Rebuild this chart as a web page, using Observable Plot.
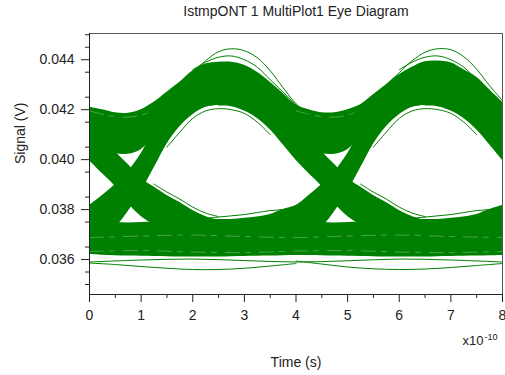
<!DOCTYPE html>
<html>
<head>
<meta charset="utf-8">
<script src="https://cdn.jsdelivr.net/npm/d3@7"></script>
<script src="https://cdn.jsdelivr.net/npm/@observablehq/plot@0.6"></script>
<style>
  html, body { margin: 0; padding: 0; background: #fff; }
  #chart svg { display: block; }
</style>
</head>
<body>
<div id="chart"></div>
<script>
// ---------- tick labels / text ----------
const titleText = "IstmpONT 1 MultiPlot1 Eye Diagram";
const xLabel = "Time (s)";
const yLabel = "Signal (V)";
const xMajor = [0, 1, 2, 3, 4, 5, 6, 7, 8];
const xMinor = [0.5, 1.5, 2.5, 3.5, 4.5, 5.5, 6.5, 7.5];
const yMajor = [0.036, 0.038, 0.040, 0.042, 0.044];
const yMinor = [0.035, 0.0355, 0.0365, 0.0375, 0.0385, 0.0395, 0.0405, 0.0415, 0.0425, 0.0435, 0.0445, 0.045];

// ---------- sample times (units of 1e-10 s) ----------
const T = [0, 0.25, 0.5, 0.75, 1, 1.25, 1.5, 1.75, 2, 2.25, 2.5, 2.75, 3, 3.25, 3.5, 3.75, 4,
           4.25, 4.5, 4.75, 5, 5.25, 5.5, 5.75, 6, 6.25, 6.5, 6.75, 7, 7.25, 7.5, 7.75, 8];

// upper mass (high level traces) envelope
const upperHi = [.0421, .0420, .04188, .04186, .0420, .0423, .0427, .0431, .04355, .04383, .0439, .0439, .04378, .0435, .0431, .04265, .0422,
                 .0420, .04188, .04188, .0420, .0422, .0426, .0430, .0434, .0437, .04392, .04395, .04388, .0436, .0433, .0428, .0423];
const upperLo = [.0408, .0405, .04025, .04022, .0404, .0409, .0413, .0416, .0419, .0421, .04218, .04218, .0421, .0418, .0414, .0410, .0407,
                 .0405, .04025, .04022, .0404, .0409, .0413, .0416, .0419, .0421, .04218, .04218, .0421, .0418, .0414, .0410, .0407];
// lower mass (low level traces) envelope
const lowerHi = [.0376, .0375, .03748, .03746, .03748, .0375, .0375, .03752, .03755, .03758, .0376, .0376, .03758, .03755, .03752, .0375, .0375,
                 .0375, .03748, .03746, .03748, .0375, .0375, .03752, .03755, .03758, .0376, .0376, .03758, .03755, .03752, .0375, .0375];
const lowerLo = [.0362, .03617, .03615, .03614, .03613, .03612, .03611, .0361, .0361, .0361, .0361, .03611, .03612, .03613, .03614, .03615, .03616,
                 .03616, .03615, .03614, .03613, .03612, .03611, .0361, .0361, .0361, .0361, .03611, .03612, .03613, .03614, .03615, .03616];

// falling transitions
const fall1T  = [0, 0.25, 0.5, 0.75, 1, 1.25, 1.5, 1.75, 2, 2.25, 2.5];
const fall1Hi = [.0414, .04084, .04032, .0398, .03924, .0389, .03856, .03828, .03796, .03772, .03756];
const fall1Lo = [.03996, .03944, .03892, .03824, .03772, .0374, .0372, .0370, .0368, .0367, .0367];
const fall2T  = [2.5, 2.75, 3, 3.25, 3.5, 3.75, 4, 4.25, 4.5, 4.75, 5, 5.25, 5.5, 5.75, 6, 6.25, 6.5];
const fall2Hi = [.0435, .0434, .0432, .0428, .0424, .0419, .0414, .04084, .04032, .0398, .03924, .0389, .03856, .03828, .03796, .03772, .03756];
const fall2Lo = [.04215, .04212, .04195, .04165, .0412, .0406, .03998, .03944, .03892, .03824, .03772, .0374, .0372, .0370, .0368, .0367, .0367];
const fall3T  = [6.5, 6.75, 7, 7.25, 7.5, 7.75, 8];
const fall3Hi = [.0435, .0434, .0432, .0428, .0424, .0419, .0414];
const fall3Lo = [.04215, .04212, .04195, .04165, .0412, .0406, .03998];

// rising transitions
const rise1T  = [0, 0.25, 0.5, 0.75, 1, 1.25, 1.5, 1.75, 2, 2.25, 2.5];
const rise1Hi = [.03816, .03856, .039, .03952, .04024, .0411, .0416, .0422, .0427, .0431, .0434];
const rise1Lo = [.0370, .0371, .0373, .03792, .03872, .03966, .04062, .04132, .0418, .0421, .04218];
const rise2T  = [2.5, 2.75, 3, 3.25, 3.5, 3.75, 4, 4.25, 4.5, 4.75, 5, 5.25, 5.5, 5.75, 6, 6.25, 6.5];
const rise2Hi = [.0376, .0376, .03765, .0377, .0378, .0380, .03816, .03856, .039, .03952, .04024, .0411, .0416, .0422, .0427, .0431, .0434];
const rise2Lo = [.0366, .0366, .0366, .0367, .0368, .0369, .0370, .0371, .0373, .03792, .03872, .03966, .04062, .04132, .0418, .0421, .04218];
const rise3T  = [6.5, 6.75, 7, 7.25, 7.5, 7.75, 8];
const rise3Hi = [.0376, .0376, .03765, .0377, .0378, .0380, .03816];
const rise3Lo = [.0366, .0366, .0366, .0367, .0368, .0369, .0370];

// individual outlying traces (green)
const topArc1T = [1.75, 2, 2.25, 2.5, 2.75, 3, 3.25, 3.5, 3.75, 4, 4.25];
const topArc1V = [.0430, .04348, .04396, .04432, .04444, .04436, .04408, .04356, .04288, .04224, .0418];
const topArc2T = [5.75, 6, 6.25, 6.5, 6.75, 7, 7.25, 7.5, 7.75, 8];
const topArc2V = [.0430, .04348, .04396, .0443, .04444, .0444, .04412, .04362, .04296, .04236];
const topArc3T = [2, 2.25, 2.5, 2.75, 3, 3.25, 3.5, 3.75, 4];
const topArc3V = [.0436, .0439, .0441, .04415, .0440, .0437, .0432, .0427, .0422];
const topArc4T = [6, 6.25, 6.5, 6.75, 7, 7.25, 7.5, 7.75, 8];
const topArc4V = [.0436, .0439, .0441, .04415, .0440, .0437, .0432, .0427, .0422];
const botArc1T = [0, 0.5, 1, 1.5, 2, 2.5, 3, 3.5, 4];
const botArc1V = [.03586, .0358, .03572, .03565, .0356, .0356, .03565, .03574, .03584];
const botArc2T = [4, 4.5, 5, 5.5, 6, 6.5, 7, 7.5, 8];
const botArc2V = [.03594, .03582, .0357, .03563, .0356, .03562, .03568, .03576, .03584];
const lowLineT = [0, 1, 2, 3, 4, 5, 6, 7, 8];
const lowLineV = [.0359, .03598, .03602, .03596, .0359, .03595, .03602, .03598, .0359];
const eyeTop1T = [1.5, 1.75, 2, 2.25, 2.5, 2.75, 3, 3.25, 3.5];
const eyeTop1V = [.0405, .0411, .04165, .04195, .04204, .0420, .04185, .0415, .0410];
const eyeTop2T = [5.5, 5.75, 6, 6.25, 6.5, 6.75, 7, 7.25, 7.5];
const eyeTop2V = [.0405, .0411, .04165, .04195, .04204, .0420, .04185, .0415, .0410];
const eyeBot1T = [2.25, 2.5, 2.75, 3, 3.25, 3.5, 3.75, 4];
const eyeBot1V = [.03765, .0377, .03775, .0378, .03788, .03796, .0380, .03808];
const eyeBot2T = [6.25, 6.5, 6.75, 7, 7.25, 7.5, 7.75, 8];
const eyeBot2V = [.03765, .0377, .03775, .0378, .03788, .03796, .0380, .03808];
const fallEdge1T = [1.25, 1.5, 1.75, 2, 2.25, 2.5];
const fallEdge1V = [.03902, .0387, .03842, .0381, .03786, .03772];
const fallEdge2T = [5.25, 5.5, 5.75, 6, 6.25, 6.5];
const fallEdge2V = [.03902, .0387, .03842, .0381, .03786, .03772];

// light gaps between traces inside the dense bands
const gapT = [0, 1, 2, 3, 4, 5, 6, 7, 8];
const gapLow1V = [.03632, .03636, .0363, .03628, .03634, .03636, .0363, .03628, .03632];
const gapLow2V = [.03688, .03694, .03698, .03692, .03688, .03694, .03698, .03692, .03688];
const gapUp1T = [0, 0.25, 0.5, 0.75, 1, 1.25];
const gapUp1V = [.04195, .04182, .04172, .0417, .04178, .04198];
const gapUp2T = [4, 4.25, 4.5, 4.75, 5, 5.25];
const gapUp2V = [.04195, .04182, .04172, .0417, .04178, .04198];

// ---------- build tables ----------
const bands = [];
function addBand(name, ts, lo, hi) { ts.forEach((t, i) => bands.push({band: name, t, lo: lo[i], hi: hi[i]})); }
addBand("upper", T, upperLo, upperHi);
addBand("lower", T, lowerLo, lowerHi);
addBand("fall1", fall1T, fall1Lo, fall1Hi);
addBand("fall2", fall2T, fall2Lo, fall2Hi);
addBand("fall3", fall3T, fall3Lo, fall3Hi);
addBand("rise1", rise1T, rise1Lo, rise1Hi);
addBand("rise2", rise2T, rise2Lo, rise2Hi);
addBand("rise3", rise3T, rise3Lo, rise3Hi);

const traces = [];
function addTrace(list, name, ts, vs) { ts.forEach((t, i) => list.push({trace: name, t, v: vs[i]})); }
addTrace(traces, "top1", topArc1T, topArc1V);
addTrace(traces, "top2", topArc2T, topArc2V);
addTrace(traces, "top3", topArc3T, topArc3V);
addTrace(traces, "top4", topArc4T, topArc4V);
addTrace(traces, "bot1", botArc1T, botArc1V);
addTrace(traces, "bot2", botArc2T, botArc2V);
addTrace(traces, "low", lowLineT, lowLineV);
addTrace(traces, "eyeTop1", eyeTop1T, eyeTop1V);
addTrace(traces, "eyeTop2", eyeTop2T, eyeTop2V);
addTrace(traces, "eyeBot1", eyeBot1T, eyeBot1V);
addTrace(traces, "eyeBot2", eyeBot2T, eyeBot2V);
addTrace(traces, "fallEdge1", fallEdge1T, fallEdge1V);
addTrace(traces, "fallEdge2", fallEdge2T, fallEdge2V);

const gaps = [];
addTrace(gaps, "g1", gapT, gapLow1V);
addTrace(gaps, "g2", gapT, gapLow2V);
addTrace(gaps, "g3", gapUp1T, gapUp1V);
addTrace(gaps, "g4", gapUp2T, gapUp2V);

const GREEN = "#008000";
const INK = "#222";
const yMin = 0.0346, yMax = 0.04505;

const chart = Plot.plot({
  width: 505,
  height: 375,
  marginLeft: 89,
  marginRight: 3,
  marginTop: 33,
  marginBottom: 81,
  style: {fontFamily: "'Liberation Sans', Arial, sans-serif", fontSize: "14px", color: INK, background: "#fff"},
  x: {domain: [0, 8], axis: null},
  y: {domain: [yMin, yMax], axis: null},
  marks: [
    Plot.areaY(bands, {x: "t", y1: "lo", y2: "hi", z: "band", fill: GREEN, curve: "catmull-rom"}),
    Plot.line(gaps, {x: "t", y: "v", z: "trace", stroke: "#fff", strokeOpacity: 0.35, strokeWidth: 0.8, strokeDasharray: "14 6 5 9", curve: "catmull-rom"}),
    Plot.line(traces, {x: "t", y: "v", z: "trace", stroke: GREEN, strokeWidth: 1, curve: "catmull-rom"}),
    Plot.frame({stroke: "#555", strokeWidth: 1}),
    Plot.ruleX([0], {stroke: INK, strokeWidth: 1}),
    Plot.ruleY([yMin], {stroke: INK, strokeWidth: 1}),
    Plot.axisX(xMajor, {anchor: "bottom", tickSize: 8, tickPadding: 8, tickFormat: d => String(d), label: null, stroke: INK, fontSize: 14}),
    Plot.axisX(xMinor, {anchor: "bottom", tickSize: 4, tickFormat: () => "", label: null, stroke: INK}),
    Plot.axisY(yMajor, {anchor: "left", tickSize: 8, tickPadding: 7, tickFormat: d3.format(".3f"), label: null, stroke: INK, fontSize: 14}),
    Plot.axisY(yMinor, {anchor: "left", tickSize: 4, tickFormat: () => "", label: null, stroke: INK}),
    Plot.text([titleText], {frameAnchor: "top", lineAnchor: "middle", dy: -21.5, fontSize: 14, fill: INK}),
    Plot.text([xLabel], {frameAnchor: "bottom", lineAnchor: "middle", dy: 68.5, fontSize: 14, fill: INK}),
    Plot.text([yLabel], {frameAnchor: "left", lineAnchor: "middle", dx: -68.5, rotate: -90, fontSize: 14, fill: INK}),
    Plot.text(["x10"], {frameAnchor: "bottom-right", lineAnchor: "middle", textAnchor: "end", dx: -19, dy: 46.5, fontSize: 13, fill: INK}),
    Plot.text(["-10"], {frameAnchor: "bottom-right", lineAnchor: "middle", textAnchor: "end", dx: -5, dy: 43, fontSize: 9, fill: INK})
  ]
});
document.getElementById("chart").append(chart);
</script>
</body>
</html>
